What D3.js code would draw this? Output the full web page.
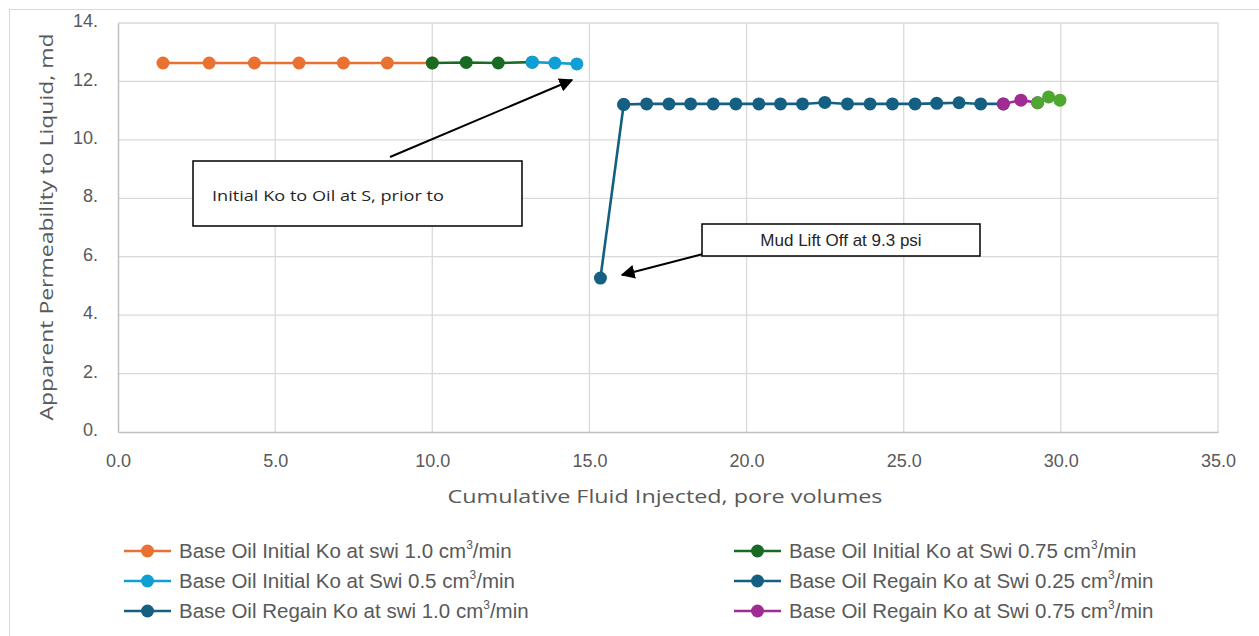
<!DOCTYPE html>
<html>
    <head>
        <meta charset="utf-8">
        <title>Apparent Permeability</title>
        <style>
            html, body {
                margin: 0px;
                padding: 0px;
                background-color: #ffffff;
            }

            #main svg {
                display: block;
            }

            .tick text {
                font-family: "Liberation Sans", Arial, sans-serif;
                font-size: 18px;
                fill: #595959;
            }

            .axisTitle {
                font-family: "Open Sans", sans-serif;
                fill: #595959;
            }

            .legend text {
                font-family: "Liberation Sans", Arial, sans-serif;
                fill: #595959;
            }
        </style>
        <script src="https://cdn.jsdelivr.net/npm/d3@7"></script>
    </head>
    <body>
        <div id="main"></div>

        <script>
            // tick values
            var xTicks = [0, 5, 10, 15, 20, 25, 30, 35];
            var yTicks = [0, 2, 4, 6, 8, 10, 12, 14];

            // series
            var initialSwi10X = [1.43, 2.90, 4.34, 5.76, 7.17, 8.57, 10.0];
            var initialSwi10Y = [12.63, 12.63, 12.63, 12.63, 12.63, 12.63, 12.63];

            var initialSwi075X = [10.0, 11.08, 12.1, 13.18];
            var initialSwi075Y = [12.63, 12.65, 12.63, 12.66];

            var initialSwi05X = [13.18, 13.9, 14.6];
            var initialSwi05Y = [12.66, 12.63, 12.6];

            var regainSwi10X = [16.09, 16.82, 17.53, 18.22, 18.94, 19.66, 20.39, 21.08, 21.78,
                                22.49, 23.21, 23.93, 24.64, 25.36, 26.05, 26.76, 27.45, 28.17];
            var regainSwi10Y = [11.21, 11.23, 11.23, 11.23, 11.23, 11.23, 11.23, 11.23, 11.23,
                                11.28, 11.23, 11.23, 11.23, 11.23, 11.25, 11.27, 11.23, 11.23];

            var regainSwi025X = [15.35, 16.09];
            var regainSwi025Y = [5.27, 11.21];

            var regainSwi075X = [28.17, 28.73, 29.26];
            var regainSwi075Y = [11.23, 11.36, 11.27];

            var extraX = [29.26, 29.61, 29.97];
            var extraY = [11.27, 11.47, 11.36];

            var width = 1259;
            var height = 636;
            var plot = {left: 118, right: 1218, top: 23, bottom: 432};

            var x = d3.scaleLinear().domain([0, 35]).range([plot.left, plot.right]);
            var y = d3.scaleLinear().domain([0, 14]).range([plot.bottom, plot.top]);

            function zip(xs, ys) {
                return xs.map(function(d, i) { return {x: d, y: ys[i]}; });
            }

            var series = [
                {name: "Base Oil Initial Ko at swi 1.0 cm", data: zip(initialSwi10X, initialSwi10Y), color: "#e97132"},
                {name: "Base Oil Initial Ko at Swi 0.75 cm", data: zip(initialSwi075X, initialSwi075Y), color: "#196b24"},
                {name: "Base Oil Initial Ko at Swi 0.5 cm", data: zip(initialSwi05X, initialSwi05Y), color: "#0f9ed5"},
                {name: "Base Oil Regain Ko at swi 1.0 cm", data: zip(regainSwi10X, regainSwi10Y), color: "#156082"},
                {name: "Base Oil Regain Ko at Swi 0.25 cm", data: zip(regainSwi025X, regainSwi025Y), color: "#156082"},
                {name: "Base Oil Regain Ko at Swi 0.75 cm", data: zip(regainSwi075X, regainSwi075Y), color: "#a02b93"},
                {name: null, data: zip(extraX, extraY), color: "#4ea72e"}
            ];

            var svg = d3.select("#main")
                .append("svg")
                .attr("width", width)
                .attr("height", height);

            // outer chart border
            svg.append("rect")
                .attr("x", 9.5).attr("y", 9.5)
                .attr("width", width + 10).attr("height", height + 10)
                .attr("fill", "none")
                .attr("stroke", "#d9d9d9");

            // gridlines
            svg.append("g")
                .selectAll("line")
                .data(xTicks.slice(1))
                .join("line")
                .attr("x1", function(d) { return x(d); })
                .attr("x2", function(d) { return x(d); })
                .attr("y1", plot.top).attr("y2", plot.bottom)
                .attr("stroke", "#d9d9d9").attr("stroke-width", 1.3);

            svg.append("g")
                .selectAll("line")
                .data(yTicks.slice(1))
                .join("line")
                .attr("x1", plot.left).attr("x2", plot.right)
                .attr("y1", function(d) { return y(d); })
                .attr("y2", function(d) { return y(d); })
                .attr("stroke", "#d9d9d9").attr("stroke-width", 1.3);

            // axes
            var xAxis = svg.append("g")
                .attr("transform", "translate(0," + plot.bottom + ")")
                .call(d3.axisBottom(x).tickValues(xTicks).tickFormat(d3.format(".1f")).tickSize(0).tickPadding(22));
            xAxis.select(".domain").attr("stroke", "#bfbfbf").attr("stroke-width", 1.5);

            var yAxis = svg.append("g")
                .attr("transform", "translate(" + plot.left + ",0)")
                .call(d3.axisLeft(y).tickValues(yTicks).tickFormat(function(d) { return d + "."; }).tickSize(0).tickPadding(20));
            yAxis.select(".domain").attr("stroke", "#bfbfbf").attr("stroke-width", 1.5);
            yAxis.selectAll(".tick text").attr("dy", "0.2em");

            // axis titles
            svg.append("text")
                .attr("class", "axisTitle")
                .attr("x", 665).attr("y", 503)
                .attr("text-anchor", "middle")
                .attr("font-size", 19)
                .attr("textLength", 435).attr("lengthAdjust", "spacingAndGlyphs")
                .text("Cumulative Fluid Injected, pore volumes");

            svg.append("text")
                .attr("class", "axisTitle")
                .attr("transform", "translate(53,227) rotate(-90)")
                .attr("text-anchor", "middle")
                .attr("font-size", 19)
                .attr("textLength", 387).attr("lengthAdjust", "spacingAndGlyphs")
                .text("Apparent Permeability to Liquid, md");

            // series
            var line = d3.line()
                .x(function(d) { return x(d.x); })
                .y(function(d) { return y(d.y); });

            series.forEach(function(s) {
                var g = svg.append("g");
                g.append("path")
                    .datum(s.data)
                    .attr("d", line)
                    .attr("fill", "none")
                    .attr("stroke", s.color)
                    .attr("stroke-width", 2.6);
                g.selectAll("circle")
                    .data(s.data)
                    .join("circle")
                    .attr("cx", function(d) { return x(d.x); })
                    .attr("cy", function(d) { return y(d.y); })
                    .attr("r", 6.5)
                    .attr("fill", s.color);
            });

            // annotations
            svg.append("defs").append("marker")
                .attr("id", "arrow")
                .attr("viewBox", "0 0 10 10")
                .attr("refX", 9).attr("refY", 5)
                .attr("markerWidth", 7).attr("markerHeight", 7)
                .attr("orient", "auto-start-reverse")
                .append("path")
                .attr("d", "M0,0 L10,5 L0,10 z")
                .attr("fill", "#000");

            svg.append("line")
                .attr("x1", 390).attr("y1", 157).attr("x2", 572).attr("y2", 80)
                .attr("stroke", "#000").attr("stroke-width", 2)
                .attr("marker-end", "url(#arrow)");

            svg.append("rect")
                .attr("x", 193).attr("y", 161).attr("width", 329).attr("height", 65)
                .attr("fill", "#fff").attr("stroke", "#000").attr("stroke-width", 1.5);

            svg.append("text")
                .attr("x", 212).attr("y", 201)
                .attr("font-family", "'Open Sans', sans-serif")
                .attr("font-size", 15)
                .attr("fill", "#262626")
                .attr("textLength", 232).attr("lengthAdjust", "spacingAndGlyphs")
                .text("Initial Ko to Oil at S, prior to");

            svg.append("line")
                .attr("x1", 703).attr("y1", 254).attr("x2", 622).attr("y2", 275)
                .attr("stroke", "#000").attr("stroke-width", 2)
                .attr("marker-end", "url(#arrow)");

            svg.append("rect")
                .attr("x", 702).attr("y", 224).attr("width", 278).attr("height", 32)
                .attr("fill", "#fff").attr("stroke", "#000").attr("stroke-width", 1.5);

            svg.append("text")
                .attr("x", 841).attr("y", 246)
                .attr("text-anchor", "middle")
                .attr("font-family", "'Liberation Sans', Arial, sans-serif")
                .attr("font-size", 17)
                .attr("fill", "#262626")
                .text("Mud Lift Off at 9.3 psi");

            // legend
            var legendPos = [
                {x: 124, y: 551}, {x: 734, y: 551},
                {x: 124, y: 581}, {x: 734, y: 581},
                {x: 124, y: 611}, {x: 734, y: 611}
            ];
            var legendOrder = [0, 1, 2, 4, 3, 5];

            var legend = svg.append("g").attr("class", "legend");
            legendOrder.forEach(function(si, i) {
                var s = series[si];
                var p = legendPos[i];
                var item = legend.append("g").attr("transform", "translate(" + p.x + "," + p.y + ")");
                item.append("line")
                    .attr("x1", 0).attr("x2", 47).attr("y1", 0).attr("y2", 0)
                    .attr("stroke", s.color).attr("stroke-width", 2.6);
                item.append("circle")
                    .attr("cx", 23.5).attr("cy", 0).attr("r", 6.5)
                    .attr("fill", s.color);
                var t = item.append("text")
                    .attr("x", 55).attr("y", 7)
                    .attr("font-size", 20.5);
                t.append("tspan").text(s.name);
                t.append("tspan").attr("font-size", 12).attr("dy", -9).text("3");
                t.append("tspan").attr("dy", 9).text("/min");
            });
        </script>
    </body>
</html>
